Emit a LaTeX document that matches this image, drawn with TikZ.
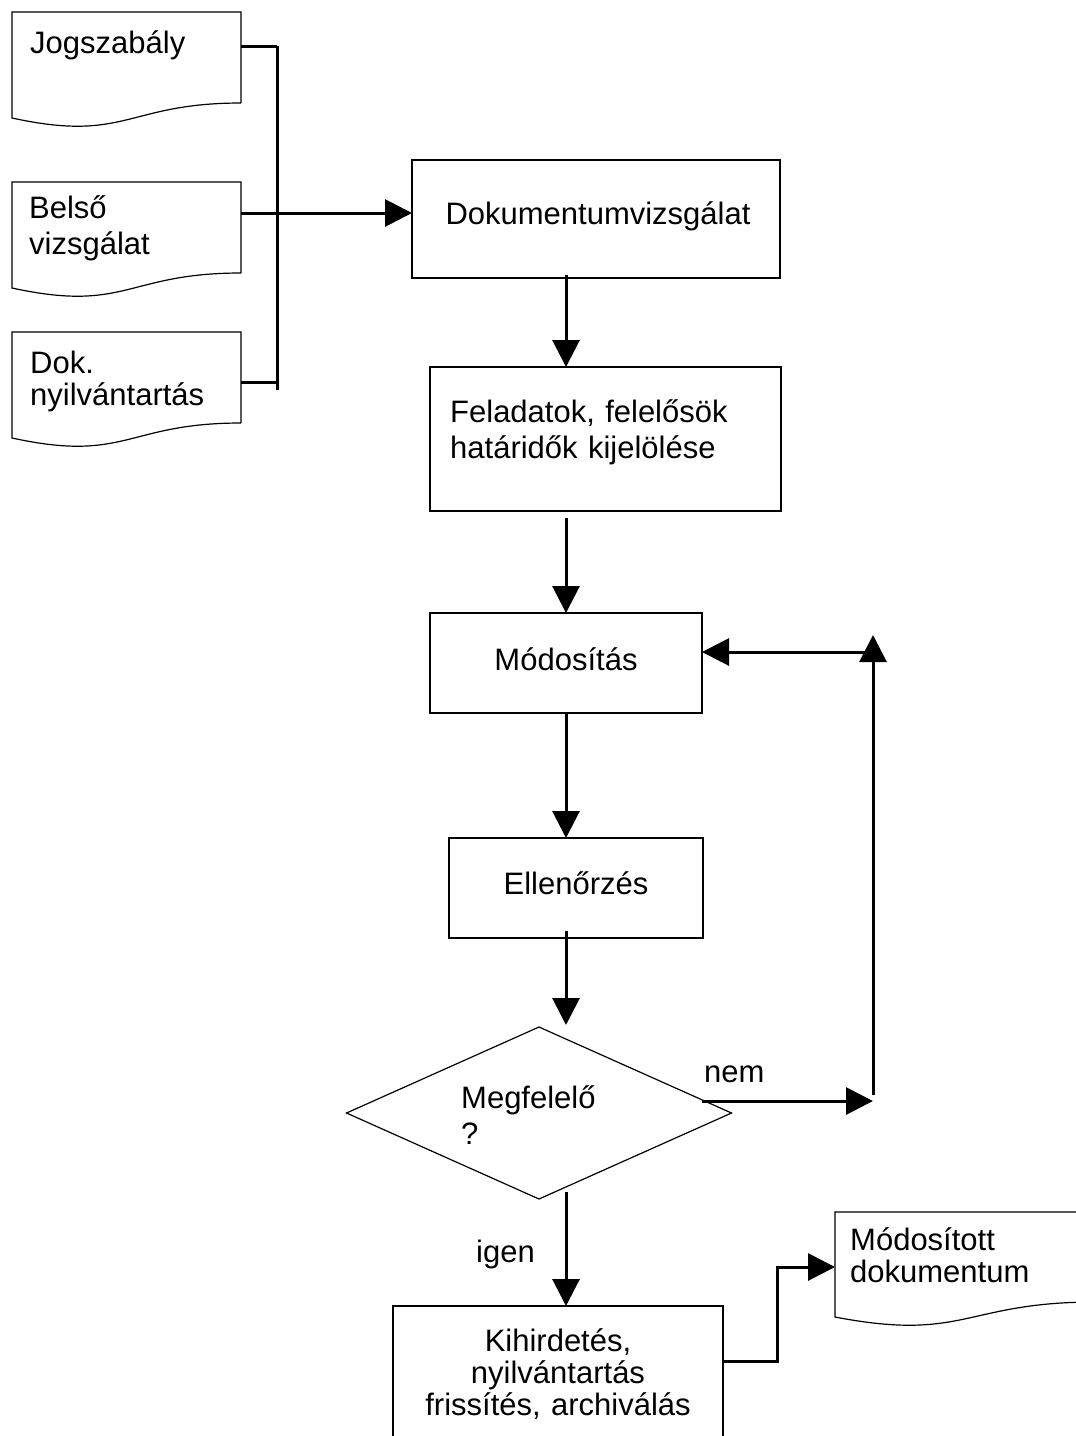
\documentclass[tikz,border=0pt]{standalone}
\usepackage{fontspec}
\setmainfont{Liberation Sans}
\usetikzlibrary{arrows.meta,shapes.geometric,calc}

\tikzset{
  box/.style={draw, line width=1.2pt, inner sep=0pt, outer sep=0pt},
  docbox/.style={inner sep=0pt, outer sep=0pt, anchor=north west, minimum width=229pt, minimum height=91pt},
  txt/.style={inner sep=0pt, font=\fontsize{31}{36}\selectfont},
  txtsq/.style={inner sep=0pt, font=\fontsize{31}{32}\selectfont},
  link/.style={line width=3pt},
  arr/.style={link, -{Triangle[length=27pt,width=27pt]}},
}

% outline of a document symbol with a wavy lower edge
\newcommand{\docoutline}[1]{%
  \draw[line width=1.2pt] (#1.south east) -- (#1.north east) -- (#1.north west)
    -- ($(#1.south west)+(0,15)$) .. controls ($(#1.south)+(0,40)$) and (#1.south) .. (#1.south east);}

\begin{document}
\begin{tikzpicture}[x=1pt, y=-1pt]
        % Page
        \useasboundingbox (0,0) rectangle (1076,1436);
        \clip (0,0) rectangle (1076,1436);

        % Input documents
        \node[docbox] (jog) at (12,12) {};
        \node[docbox] (bel) at (12,182) {};
        \node[docbox] (nyt) at (12,332) {};
        \docoutline{jog}
        \docoutline{bel}
        \docoutline{nyt}
        \node[txt, anchor=base west] (jogt) at (30,53) {Jogszabály};
        \node[txt, anchor=base west, text width=200pt, align=left] (belt) at (29,218) {Belső\\vizsgálat};
        \node[txtsq, anchor=base west, text width=200pt, align=left] (nytt) at (30,373) {Dok.\\nyilvántartás};

        % Process steps
        \node[box, minimum width=368pt, minimum height=118pt] (dok) at (596,219) {};
        \node[box, minimum width=351pt, minimum height=144pt] (fel) at (605.5,439) {};
        \node[box, minimum width=272pt, minimum height=100pt] (mod) at (566,663) {};
        \node[box, minimum width=254pt, minimum height=100pt] (ell) at (576,888) {};
        \node[box, diamond, minimum width=385pt, minimum height=172pt] (dia) at (539,1113) {};
        \node[box, minimum width=330pt, minimum height=150pt] (kih) at (558,1381) {};
        \node[docbox, minimum width=260pt, minimum height=90pt] (mdok) at (835,1212) {};
        \docoutline{mdok}

        % Texts
        \node[txt, anchor=base] (dokt) at (598,224) {Dokumentumvizsgálat};
        \node[txt, anchor=base west, text width=320pt, align=left] (felt) at (450,422) {Feladatok, felelősök\\határidők kijelölése};
        \node[txt, anchor=base] (modt) at (566,670) {Módosítás};
        \node[txt, anchor=base] (ellt) at (576,894) {Ellenőrzés};
        \node[txt, anchor=base west, text width=200pt, align=left] (diat) at (461,1108) {Megfelelő\\?};
        \node[txtsq, anchor=base, text width=330pt, align=center] (kiht) at (558,1351) {Kihirdetés,\\nyilvántartás\\frissítés, archiválás};
        \node[txtsq, anchor=base west, text width=220pt, align=left] (mdokt) at (850,1250) {Módosított\\dokumentum};
        \node[txt, anchor=base west] (nem) at (704,1082) {nem};
        \node[txt, anchor=base west] (igen) at (476,1262) {igen};

        % Collecting line
        \coordinate (bustop) at (277,46);
        \coordinate (busmid) at (277,213);
        \coordinate (busbot) at (277,382);
        \draw[link] (bustop -| jog.east) -- (bustop);
        \draw[link] (busbot -| nyt.east) -- (busbot);
        \draw[link] (bustop) -- ($(busbot)+(0,8)$);
        \draw[arr] (busmid -| bel.east) -- (busmid -| dok.west);

        % Main flow
        \coordinate (spine) at (566,0);
        \draw[arr] ($(spine |- dok.south)+(0,-3)$) -- (spine |- fel.north);
        \draw[arr] ($(spine |- fel.south)+(0,7)$) -- (spine |- mod.north);
        \draw[arr] (spine |- mod.south) -- (spine |- ell.north);
        \draw[arr] ($(spine |- ell.south)+(0,-7)$) -- ($(spine |- dia.north)+(0,-2)$);
        \draw[arr] ($(spine |- dia.south)+(0,-7)$) -- (spine |- kih.north);

        % Loop back on "nem"
        \coordinate (loopbot) at (873,1101);
        \coordinate (looptop) at (873,635);
        \coordinate (loopleft) at (876,652);
        \draw[arr] ($(dia.east)+(-30,-12)$) -- (loopbot);
        \draw[arr] ($(loopbot)+(0,-6)$) -- (looptop);
        \draw[arr] (loopleft) -- (loopleft -| mod.east);

        % Output document
        \coordinate (outbend) at (777,1267);
        \draw[arr] ($(kih.north east)+(0,55)$) -| (outbend) -- (outbend -| mdok.west);
      \end{tikzpicture}
\end{document}
